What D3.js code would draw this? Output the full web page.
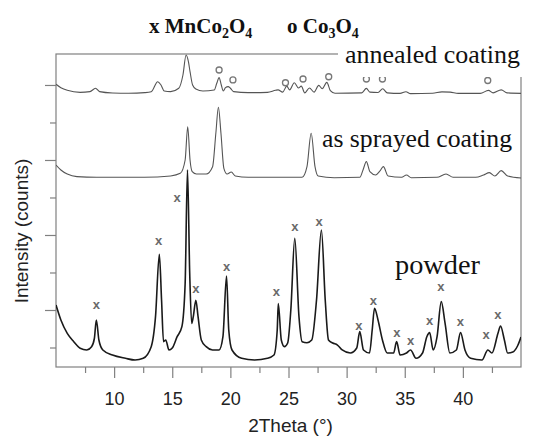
<!DOCTYPE html>
<html>
<head>
<meta charset="utf-8">
<script src="https://cdn.jsdelivr.net/npm/d3@7"></script>
<style>
  body { margin: 0; background: #fff; }
  svg { display: block; }
</style>
</head>
<body>
<div class="chart"></div>
<script>
// 2Theta (deg) / intensity (counts) pairs
var powder = [
  [5.0, 1067], [5.42, 867], [5.97, 689], [6.53, 578], [7.08, 489], [7.64, 467],
  [8.06, 511], [8.3, 620], [8.47, 867], [8.69, 600], [9.03, 467], [9.86, 400],
  [10.97, 356], [11.8, 333], [12.5, 356], [13.19, 511], [13.56, 911], [13.89, 1742],
  [14.08, 1133], [14.25, 578], [14.44, 600], [14.72, 467], [15.0, 493], [15.42, 644],
  [15.83, 778], [16.11, 1356], [16.31, 2870], [16.5, 1500], [16.67, 822], [16.81, 911],
  [17.03, 1130], [17.22, 911], [17.5, 600], [17.92, 511], [18.47, 467], [19.03, 467],
  [19.36, 644], [19.67, 1453], [19.86, 733], [20.14, 467], [20.97, 356], [22.08, 333],
  [23.19, 356], [23.75, 400], [24.03, 733], [24.12, 1085], [24.38, 600], [24.65, 511],
  [24.93, 560], [25.2, 1000], [25.54, 1956], [25.9, 911], [26.17, 578], [26.59, 564],
  [27.0, 600], [27.41, 1133], [27.83, 2067], [28.16, 1133], [28.44, 600], [28.8, 560],
  [29.21, 533], [29.62, 467], [30.32, 427], [30.87, 493], [31.13, 711], [31.45, 467],
  [31.97, 427], [32.2, 733], [32.4, 1022], [32.7, 867], [33.08, 600], [33.49, 427],
  [34.04, 427], [34.3, 578], [34.6, 400], [35.15, 427], [35.5, 467], [35.97, 356],
  [36.53, 427], [36.9, 644], [37.14, 698], [37.45, 467], [37.78, 644], [38.14, 1111],
  [38.47, 822], [38.88, 427], [39.44, 467], [39.8, 698], [40.18, 467], [40.67, 356],
  [41.64, 333], [42.15, 467], [42.5, 427], [43.02, 689], [43.24, 787], [43.57, 600],
  [43.85, 427], [44.3, 440], [44.7, 520], [45.0, 640]
];

var sprayed = [
  [5.0, 2933], [5.42, 2867], [5.97, 2813], [6.8, 2778], [8.5, 2769], [12.6, 2769],
  [14.86, 2787], [15.69, 2822], [16.11, 3000], [16.33, 3444], [16.53, 3000], [16.72, 2844],
  [17.08, 2813], [17.92, 2813], [18.47, 2911], [18.75, 3356], [18.97, 3704], [19.19, 3356],
  [19.44, 2889], [19.72, 2813], [20.08, 2840], [20.42, 2787], [21.53, 2769], [24.3, 2769],
  [26.17, 2769], [26.59, 2911], [26.95, 3356], [27.28, 2911], [27.55, 2787], [28.93, 2764],
  [31.14, 2769], [31.41, 2867], [31.7, 2978], [32.0, 2844], [32.5, 2800], [32.85, 2850],
  [33.16, 2911], [33.57, 2787], [34.73, 2769], [35.15, 2800], [35.56, 2764], [37.77, 2769],
  [38.55, 2813], [39.16, 2769], [41.1, 2769], [41.78, 2800], [42.28, 2831], [42.75, 2787],
  [43.3, 2858], [43.85, 2787], [45.0, 2760]
];

var annealed = [
  [5.0, 4009], [5.42, 3964], [5.97, 3929], [7.08, 3902], [7.92, 3911], [8.4, 3956],
  [8.75, 3911], [9.86, 3893], [11.25, 3889], [12.64, 3898], [13.19, 3911], [13.75, 4044],
  [14.03, 4000], [14.31, 3920], [14.86, 3911], [15.56, 3956], [15.92, 4133], [16.19, 4400],
  [16.39, 4311], [16.53, 4178], [16.75, 4000], [17.03, 3947], [17.64, 3920], [18.61, 3933],
  [18.83, 4022], [19.03, 4098], [19.22, 4000], [19.39, 3920], [19.58, 3964], [19.81, 3978],
  [20.0, 3956], [20.28, 3911], [21.53, 3898], [23.19, 3902], [23.89, 3929], [24.1, 3935],
  [24.5, 3905], [24.85, 3985], [25.1, 3935], [25.5, 4030], [25.85, 3960], [26.1, 3985],
  [26.4, 3895], [26.8, 3960], [27.2, 3905], [27.6, 3995], [27.9, 3950], [28.3, 4035],
  [28.6, 3925], [29.0, 3890], [31.3, 3895], [31.7, 3955], [32.0, 3905], [32.7, 3900],
  [33.1, 3950], [33.5, 3895], [34.6, 3888], [35.1, 3910], [35.5, 3885], [37.4, 3890],
  [38.2, 3908], [38.9, 3905], [39.6, 3888], [41.5, 3888], [42.2, 3928], [42.6, 3895],
  [43.3, 3935], [43.8, 3895], [45.0, 3888]
];

// peak labels: x = MnCo2O4 (on powder), o = Co3O4 (on annealed coating)
var xMarks = [
  [8.47, 1080], [13.83, 1933], [15.42, 2502], [17.03, 1289], [19.67, 1587], [23.95, 1244],
  [25.54, 2111], [27.64, 2177], [31.06, 800], [32.3, 1133], [34.32, 697], [35.51, 600],
  [37.14, 867], [38.1, 1311], [39.79, 853], [42.0, 676], [43.0, 947]
];
var oMarks = [
  [19.03, 4200], [20.22, 4067], [24.74, 4030], [26.25, 4080], [28.46, 4110],
  [31.7, 4080], [33.08, 4080], [42.14, 4060]
];

var xMajor = [10, 15, 20, 25, 30, 35, 40];
var xMinor = [7.5, 12.5, 17.5, 22.5, 27.5, 32.5, 37.5, 42.5];
var yMajor = [1000, 2000, 3000, 4000];
var yMinor = [500, 1500, 2500, 3500];

var W = 542, H = 438;
var plotL = 56, plotR = 521, plotT = 54, plotB = 367;
var frameColor = "#808080";

var svg = d3.select(".chart").append("svg")
  .attr("width", W).attr("height", H);

var x = d3.scaleLinear().domain([5, 45]).range([plotL, plotR]);
var y = d3.scaleLinear().domain([240, 4413]).range([plotB, plotT]);

svg.append("clipPath").attr("id", "plot")
  .append("rect").attr("x", plotL).attr("y", plotT - 2)
  .attr("width", plotR - plotL).attr("height", plotB - plotT + 2);

// frame
svg.append("rect")
  .attr("x", plotL).attr("y", plotT)
  .attr("width", plotR - plotL).attr("height", plotB - plotT)
  .attr("fill", "none").attr("stroke", frameColor).attr("stroke-width", 1.2);

// axes: ticks only, the frame draws the domain line
function styleAxis(g) {
  g.select(".domain").remove();
  g.selectAll(".tick line").attr("stroke", frameColor).attr("stroke-width", 1.2);
  g.selectAll(".tick text")
    .attr("fill", "#222")
    .style("font-family", "Liberation Sans, Arial, sans-serif")
    .style("font-size", "18px");
}

svg.append("g")
  .attr("transform", `translate(0,${plotB})`)
  .call(d3.axisBottom(x).tickValues(xMajor).tickSize(11).tickPadding(14))
  .call(styleAxis);
svg.append("g")
  .attr("transform", `translate(0,${plotB})`)
  .call(d3.axisBottom(x).tickValues(xMinor).tickSize(6).tickFormat(""))
  .call(styleAxis);
svg.append("g")
  .attr("transform", `translate(${plotL},0)`)
  .call(d3.axisLeft(y).tickValues(yMajor).tickSize(11).tickFormat(""))
  .call(styleAxis);
svg.append("g")
  .attr("transform", `translate(${plotL},0)`)
  .call(d3.axisLeft(y).tickValues(yMinor).tickSize(6).tickFormat(""))
  .call(styleAxis);

// patterns
var line = d3.line()
  .x(d => x(d[0]))
  .y(d => y(d[1]))
  .curve(d3.curveMonotoneX);

var traces = [
  { data: annealed, color: "#555", w: 1.1 },
  { data: sprayed, color: "#555", w: 1.1 },
  { data: powder, color: "#1a1a1a", w: 1.6 }
];
svg.append("g").attr("clip-path", "url(#plot)")
  .selectAll("path").data(traces).enter().append("path")
  .attr("d", d => line(d.data))
  .attr("fill", "none")
  .attr("stroke", d => d.color)
  .attr("stroke-width", d => d.w)
  .attr("stroke-linejoin", "round");

// markers
svg.append("g").selectAll("text").data(xMarks).enter().append("text")
  .attr("x", d => x(d[0]))
  .attr("y", d => y(d[1]))
  .attr("dy", "0.35em")
  .attr("text-anchor", "middle")
  .attr("fill", "#6a6a6a")
  .style("font-family", "Liberation Sans, Arial, sans-serif")
  .style("font-size", "13px")
  .style("font-weight", "bold")
  .text("x");

svg.append("g").selectAll("circle").data(oMarks).enter().append("circle")
  .attr("cx", d => x(d[0]))
  .attr("cy", d => y(d[1]))
  .attr("r", 3)
  .attr("fill", "none")
  .attr("stroke", "#777")
  .attr("stroke-width", 1.3);

// white patch where the label sits over the frame corner
svg.append("rect")
  .attr("x", 338).attr("y", 40).attr("width", 200).attr("height", 37)
  .attr("fill", "#fff");

var serif = "Liberation Serif, Times New Roman, serif";
function sampleLabel(txt, xp, yp, size, len) {
  svg.append("text")
    .attr("x", xp).attr("y", yp)
    .attr("textLength", len).attr("lengthAdjust", "spacingAndGlyphs")
    .style("font-family", serif).style("font-size", size + "px")
    .attr("fill", "#111")
    .text(txt);
}
sampleLabel("annealed coating", 345, 63, 26, 175);
sampleLabel("as sprayed coating", 322, 147, 26, 190);
sampleLabel("powder", 395, 274, 28, 85);

// phase legend with subscripts
function formula(xp, parts) {
  var t = svg.append("text")
    .attr("x", xp).attr("y", 33)
    .style("font-family", serif).style("font-size", "21px")
    .style("font-weight", "bold").attr("fill", "#111");
  var low = false;
  parts.forEach(function (p) {
    var ts = t.append("tspan").text(p.s);
    if (p.sub) {
      ts.style("font-size", "14px").attr("dy", low ? 0 : 5);
      low = true;
    } else {
      ts.attr("dy", low ? -5 : 0);
      low = false;
    }
  });
}
formula(149, [{ s: "x MnCo" }, { s: "2", sub: true }, { s: "O" }, { s: "4", sub: true }]);
formula(287, [{ s: "o Co" }, { s: "3", sub: true }, { s: "O" }, { s: "4", sub: true }]);

// axis titles
svg.append("text")
  .attr("x", (plotL + plotR) / 2 + 2).attr("y", 432)
  .attr("text-anchor", "middle")
  .style("font-family", "Liberation Sans, Arial, sans-serif")
  .style("font-size", "19px").attr("fill", "#222")
  .text("2Theta (°)");

svg.append("text")
  .attr("transform", "translate(28,231) rotate(-90)")
  .attr("text-anchor", "middle")
  .style("font-family", "Liberation Sans, Arial, sans-serif")
  .style("font-size", "19px").attr("fill", "#222")
  .text("Intensity (counts)");
</script>
</body>
</html>
